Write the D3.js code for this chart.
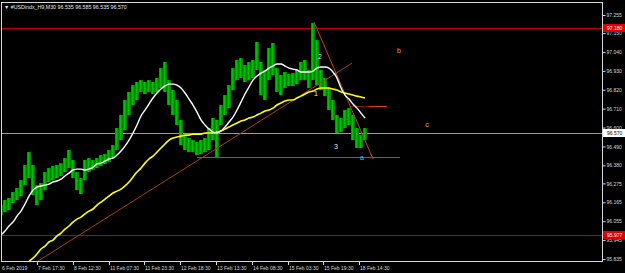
<html>
<head>
<meta charset="utf-8">
<script src="https://cdn.jsdelivr.net/npm/d3@7"></script>
<style>
  body { margin: 0; background: #000; }
  text { font-family: "Liberation Sans", Arial, sans-serif; }
</style>
</head>
<body>
<script>
// bars sampled every 4 px of the original chart (M30)
var hi = [96.149,96.178,96.190,96.225,96.248,96.294,96.382,96.457,96.382,96.265,96.277,96.341,96.364,96.376,96.382,96.393,
  96.422,96.469,96.411,96.341,96.306,96.411,96.422,96.411,96.422,96.440,96.446,96.469,96.498,96.597,96.673,96.760,
  96.807,96.847,96.865,96.876,96.865,96.876,96.865,96.888,96.946,96.981,96.876,96.818,96.760,96.644,96.556,96.539,
  96.527,96.516,96.527,96.539,96.597,96.655,96.644,96.731,96.789,96.847,96.946,96.993,97.004,96.964,96.981,96.993,
  97.098,96.981,96.935,97.063,97.092,96.946,96.906,96.923,96.911,96.917,96.935,96.981,96.993,96.935,97.208,97.109,
  96.935,96.888,96.830,96.760,96.673,96.655,96.702,96.713,96.673,96.597,96.556,96.597];
var lo = [96.091,96.108,96.120,96.161,96.178,96.201,96.265,96.306,96.207,96.149,96.178,96.236,96.283,96.294,96.306,96.318,
  96.341,96.364,96.306,96.236,96.213,96.294,96.341,96.353,96.364,96.376,96.388,96.399,96.422,96.469,96.527,96.585,
  96.673,96.731,96.760,96.807,96.795,96.807,96.795,96.807,96.830,96.807,96.731,96.673,96.615,96.498,96.469,96.457,
  96.457,96.440,96.446,96.457,96.469,96.527,96.428,96.615,96.673,96.713,96.818,96.876,96.888,96.865,96.876,96.888,
  96.935,96.789,96.760,96.876,96.906,96.807,96.789,96.830,96.842,96.842,96.853,96.876,96.876,96.830,96.876,96.847,
  96.818,96.783,96.702,96.644,96.568,96.574,96.597,96.615,96.527,96.481,96.481,96.527];
var maFast = [95.974,95.998,96.027,96.050,96.085,96.114,96.155,96.201,96.236,96.254,96.260,96.265,96.271,96.283,96.289,96.300,
  96.318,96.335,96.353,96.358,96.358,96.353,96.358,96.370,96.388,96.393,96.405,96.417,96.422,96.440,96.463,96.492,
  96.527,96.568,96.615,96.667,96.702,96.737,96.772,96.801,96.824,96.842,96.853,96.853,96.847,96.830,96.801,96.766,
  96.731,96.690,96.644,96.615,96.591,96.574,96.568,96.580,96.603,96.632,96.661,96.702,96.748,96.795,96.836,96.876,
  96.900,96.917,96.929,96.946,96.958,96.970,96.970,96.958,96.946,96.940,96.935,96.923,96.923,96.923,96.929,96.946,
  96.952,96.952,96.946,96.923,96.888,96.830,96.789,96.766,96.737,96.713,96.684,96.655];
var maSlow = [null,null,null,null,null,null,null,95.823,95.840,95.864,95.893,95.910,95.934,95.945,95.969,95.986,
  96.009,96.027,96.050,96.067,96.079,96.097,96.114,96.126,96.149,96.166,96.184,96.201,96.219,96.230,96.242,96.260,
  96.283,96.312,96.341,96.364,96.393,96.417,96.434,96.457,96.481,96.504,96.527,96.539,96.545,96.550,96.556,96.556,
  96.562,96.562,96.562,96.568,96.568,96.568,96.574,96.580,96.591,96.603,96.615,96.626,96.638,96.644,96.655,96.661,
  96.673,96.684,96.696,96.702,96.713,96.731,96.743,96.754,96.760,96.760,96.772,96.783,96.795,96.807,96.812,96.824,
  96.830,96.830,96.830,96.824,96.818,96.807,96.801,96.795,96.789,96.783,96.778,96.772];

var priceTicks = [97.255,97.150,97.040,96.930,96.820,96.710,96.600,96.490,96.380,96.275,96.165,96.055,95.945,95.835];
var timeLabels = ["6 Feb 2019","7 Feb 17:30","8 Feb 12:30","11 Feb 07:30","11 Feb 23:30","12 Feb 18:30",
  "13 Feb 13:30","14 Feb 08:30","15 Feb 03:30","15 Feb 19:30","18 Feb 14:30"];
var timeIdx = [0,9,18,27,35.75,44.75,53.75,62.75,71.75,80.5,89.5];

var levelTop = 97.180, levelBottom = 95.977, lastPrice = 96.570;
var title = "#USDindx_H9,M30  96.535 96.585 96.535 96.570";

var w = 625, h = 273;
// plot box (note: "top" is reserved on window)
var pL = 1, pR = 602, pT = 2, pB = 261;

var x = d3.scaleLinear().domain([0, 150.25]).range([pL, pR]);
var y = d3.scaleLinear().domain([95.835, 97.255]).range([259, 15]);

var svg = d3.select("body").append("svg")
  .attr("width", w).attr("height", h)
  .style("background", "#000");

svg.append("clipPath").attr("id", "clip")
  .append("rect").attr("x", pL).attr("y", pT).attr("width", pR - pL).attr("height", pB - pT);
var plot = svg.append("g").attr("clip-path", "url(#clip)");

// horizontal levels
function hline(p, col, x0, x1) {
  var yy = Math.round(y(p)) + 0.5;
  plot.append("line")
    .attr("x1", x0 == null ? pL : x(x0)).attr("x2", x1 == null ? pR : x(x1))
    .attr("y1", yy).attr("y2", yy)
    .attr("stroke", col).attr("stroke-width", 1);
}
hline(levelTop, "#c00000");
hline(levelBottom, "#c00000");
hline(lastPrice, "#9a9a9a");
hline(96.428, "#c8400e", 49, 99.75);
hline(96.725, "#7a1a08", 87.25, 92);
hline(96.725, "#e0401a", 92, 96.5);

// bars
plot.selectAll("rect.bar").data(hi).enter().append("rect")
  .attr("class", "bar")
  .attr("x", function(d, i) { return x(i) - 2; })
  .attr("y", function(d) { return y(d); })
  .attr("width", 4)
  .attr("height", function(d, i) { return Math.max(1, y(lo[i]) - y(d)); })
  .attr("fill", "#007e00");
plot.selectAll("line.wick").data(hi).enter().append("line")
  .attr("class", "wick")
  .attr("x1", function(d, i) { return x(i) - 0.5; }).attr("x2", function(d, i) { return x(i) - 0.5; })
  .attr("y1", function(d) { return y(d); })
  .attr("y2", function(d, i) { return y(lo[i]); })
  .attr("stroke", "#00c000").attr("stroke-width", 2);

// trend lines
var trend = [
  {a: [9.25, 95.823], b: [87.75, 96.975], c: "#a8400f"},
  {a: [78.25, 97.214], b: [93, 96.417], c: "#c8461e"}
];
plot.selectAll("line.trend").data(trend).enter().append("line")
  .attr("class", "trend")
  .attr("x1", function(d) { return x(d.a[0]); }).attr("y1", function(d) { return y(d.a[1]); })
  .attr("x2", function(d) { return x(d.b[0]); }).attr("y2", function(d) { return y(d.b[1]); })
  .attr("stroke", function(d) { return d.c; }).attr("stroke-width", 1);

// moving averages
var line = d3.line()
  .defined(function(d) { return d != null; })
  .x(function(d, i) { return x(i); })
  .y(function(d) { return y(d); })
  .curve(d3.curveMonotoneX);
plot.append("path").datum(maSlow).attr("d", line)
  .attr("fill", "none").attr("stroke", "#ffff00").attr("stroke-width", 1.6);
plot.append("path").datum(maFast).attr("d", line)
  .attr("fill", "none").attr("stroke", "#ffffff").attr("stroke-width", 1.4);

// wave labels
var marks = [
  {t: "1", i: 78.75, p: 96.800, c: "#e8e8e8"},
  {t: "2", i: 79.75, p: 97.016, c: "#e8e8e8"},
  {t: "3", i: 83.75, p: 96.492, c: "#e8e8e8"},
  {t: "a", i: 90.25, p: 96.428, c: "#5fb4e8"},
  {t: "b", i: 99.5, p: 97.051, c: "#ffa020"},
  {t: "c", i: 106.5, p: 96.620, c: "#ffa020"}
];
plot.selectAll("text.mark").data(marks).enter().append("text")
  .attr("class", "mark")
  .attr("x", function(d) { return x(d.i); })
  .attr("y", function(d) { return y(d.p); })
  .attr("dy", "0.35em")
  .attr("text-anchor", "middle")
  .attr("font-size", 7)
  .attr("fill", function(d) { return d.c; })
  .text(function(d) { return d.t; });

// frame
svg.append("rect").attr("x", pL + 0.5).attr("y", pT + 0.5)
  .attr("width", pR - pL).attr("height", pB - pT)
  .attr("fill", "none").attr("stroke", "#d8d8d8").attr("stroke-width", 1);

// price axis
var yAxis = d3.axisRight(y).tickValues(priceTicks).tickSize(3).tickPadding(1)
  .tickFormat(function(d) { return d.toFixed(3); });
var ya = svg.append("g").attr("transform", "translate(" + (pR + 0.5) + ",0)").call(yAxis);
ya.select(".domain").remove();
ya.selectAll("line").attr("stroke", "#d8d8d8");
ya.selectAll("text").attr("fill", "#d8d8d8").attr("font-size", 5)
  .attr("font-family", "Liberation Sans, Arial, sans-serif");

var boxes = [
  {p: levelTop, bg: "#e00000", fg: "#ffffff"},
  {p: lastPrice, bg: "#ffffff", fg: "#000000"},
  {p: levelBottom, bg: "#e00000", fg: "#ffffff"}
];
var bx = svg.selectAll("g.box").data(boxes).enter().append("g")
  .attr("class", "box")
  .attr("transform", function(d) { return "translate(" + (pR + 1) + "," + Math.round(y(d.p)) + ")"; });
bx.append("rect").attr("x", 0).attr("y", -4).attr("width", 22).attr("height", 8)
  .attr("fill", function(d) { return d.bg; });
bx.append("text").attr("x", 4).attr("y", 0).attr("dy", "0.35em")
  .attr("font-size", 5).attr("fill", function(d) { return d.fg; })
  .text(function(d) { return d.p.toFixed(3); });

// time axis
var ta = svg.append("g");
ta.selectAll("line").data(timeIdx.slice(1)).enter().append("line")
  .attr("x1", function(d) { return Math.round(x(d)) + 0.5; })
  .attr("x2", function(d) { return Math.round(x(d)) + 0.5; })
  .attr("y1", pB).attr("y2", pB + 4)
  .attr("stroke", "#d8d8d8");
ta.selectAll("text").data(timeLabels).enter().append("text")
  .attr("x", function(d, i) { return Math.round(x(timeIdx[i])) + 1; })
  .attr("y", 270)
  .attr("font-size", 5).attr("fill", "#d8d8d8")
  .text(function(d) { return d; });

// title
svg.append("text").attr("x", 4).attr("y", 8.5).attr("font-size", 5.3).attr("fill", "#e8e8e8")
  .text("\u25BC " + title);
</script>
</body>
</html>
